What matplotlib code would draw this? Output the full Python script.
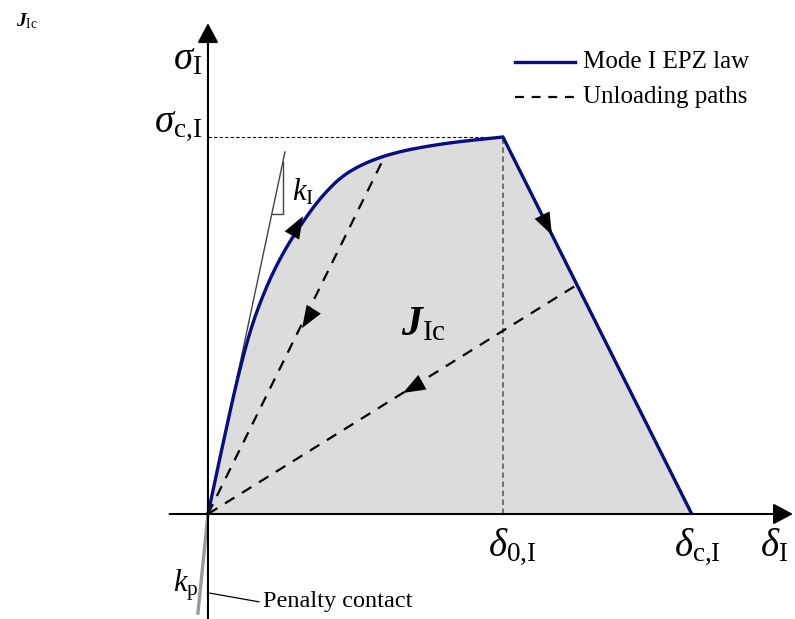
import matplotlib
matplotlib.use("Agg")
import matplotlib.pyplot as plt
from matplotlib.patches import FancyArrowPatch, PathPatch
from matplotlib.path import Path

plt.rcParams["font.family"] = ["Liberation Serif", "DejaVu Serif"]
plt.rcParams["mathtext.fontset"] = "custom"
plt.rcParams["mathtext.rm"] = "Liberation Serif"
plt.rcParams["mathtext.it"] = "Liberation Serif:italic"
plt.rcParams["mathtext.bf"] = "Liberation Serif:bold:italic"

# Normalised traction-separation law (delta / delta_0, sigma / sigma_c)
delta_hard = [0.0, 0.0203, 0.0441, 0.0678, 0.0881, 0.1085, 0.1322, 0.1593,
              0.1864, 0.2136, 0.2441, 0.2780, 0.3119, 0.3458, 0.3797, 0.4136,
              0.4475, 0.4881, 0.5390, 0.5831, 0.6169, 0.6847, 0.7864, 0.8542,
              0.9220, 1.0]
sigma_hard = [0.0, 0.0743, 0.1618, 0.2467, 0.3183, 0.3846, 0.4562, 0.5241,
              0.5793, 0.6292, 0.6769, 0.7233, 0.7631, 0.8016, 0.8361, 0.8653,
              0.8905, 0.9127, 0.9326, 0.9456, 0.9541, 0.9674, 0.9809, 0.9878,
              0.9936, 1.0]
delta_0 = 1.0
delta_c = 1.64
sigma_c = 1.0

# Unloading paths: end points on the law
unload_1 = (0.600, 0.950)
unload_2 = (1.251, 0.608)

# Initial stiffness and penalty stiffness lines
k_I_end = (0.261, 0.960)
k_p_end = (-0.034, -0.263)

NAVY = "#0b0b82"

fig = plt.figure(figsize=(7.95, 6.19), dpi=100)
ax = fig.add_axes([0, 0, 1, 1])
ax.set_xlim(-0.705, 1.990)
ax.set_ylim(-0.2785, 1.3634)
ax.axis("off")


def smooth_path(xs, ys):
    """Quadratic-spline path through the midpoints of the given polyline."""
    pts = list(zip(xs, ys))
    verts = [pts[0]]
    codes = [Path.MOVETO]
    for i in range(1, len(pts) - 1):
        mid = ((pts[i][0] + pts[i + 1][0]) / 2, (pts[i][1] + pts[i + 1][1]) / 2)
        verts += [pts[i], mid]
        codes += [Path.CURVE3, Path.CURVE3]
    verts.append(pts[-1])
    codes.append(Path.LINETO)
    return verts, codes


hard_verts, hard_codes = smooth_path(delta_hard, sigma_hard)

# Dissipated energy area
fill_verts = hard_verts + [(delta_c, 0.0), (0.0, 0.0)]
fill_codes = hard_codes + [Path.LINETO, Path.CLOSEPOLY]
ax.add_patch(PathPatch(Path(fill_verts, fill_codes), facecolor="#dcdcdc",
                       lw=0, zorder=1))

# Guide lines at the peak
ax.plot([0, delta_0], [sigma_c, sigma_c], color="k", lw=0.8,
        dashes=(3, 2), zorder=2)
ax.plot([delta_0, delta_0], [0, sigma_c], color="#666666", lw=1.3,
        dashes=(3, 2), zorder=2)

# Stiffness lines
ax.plot([0, k_I_end[0]], [0, k_I_end[1]], color="#444444", lw=1.0, zorder=3)
ax.plot([0.217, 0.254, 0.254], [0.796, 0.796, 0.934], color="#444444",
        lw=1.0, zorder=3)
ax.plot([0, k_p_end[0]], [0, k_p_end[1]], color="#999999", lw=2.4, zorder=3)

# Unloading paths
for px, py in (unload_1, unload_2):
    ax.plot([0, px], [0, py], color="k", lw=1.6, dashes=(5, 4), zorder=4)

# Mode I law: hardening branch then linear softening
law_verts = hard_verts + [(delta_c, 0.0)]
law_codes = hard_codes + [Path.LINETO]
ax.add_patch(PathPatch(Path(law_verts, law_codes), facecolor="none",
                       edgecolor=NAVY, lw=2.4, joinstyle="miter", zorder=5))

# Axes with arrow heads
for start, end in (((-0.13, 0.0), (1.983, 0.0)), ((0.0, -0.2785), (0.0, 1.302))):
    ax.add_patch(FancyArrowPatch(start, end, arrowstyle="-|>,head_length=0.6,head_width=0.32",
                                 mutation_scale=20, color="k", lw=1.5,
                                 shrinkA=0, shrinkB=0, zorder=6))


# Direction arrows along the paths
def direction_arrow(tail, tip):
    ax.add_patch(FancyArrowPatch(tail, tip, arrowstyle="-|>,head_length=0.8,head_width=0.3",
                                 mutation_scale=20, color="k", lw=0,
                                 shrinkA=0, shrinkB=0, zorder=7))


direction_arrow((0.295, 0.753), (0.322, 0.790))
direction_arrow((0.353, 0.536), (0.319, 0.493))
direction_arrow((1.130, 0.797), (1.166, 0.740))
direction_arrow((0.753, 0.361), (0.661, 0.321))

# Axis and point labels
ax.text(-0.02, 1.204, r"$\sigma_{\rm I}$", fontsize=28, ha="right", va="center")
ax.text(-0.02, 1.032, r"$\sigma_{\mathrm{c{,}I}}$", fontsize=28, ha="right", va="center")
ax.text(1.03, -0.085, r"$\delta_{\mathrm{0{,}I}}$", fontsize=28, ha="center", va="center")
ax.text(1.66, -0.085, r"$\delta_{\mathrm{c{,}I}}$", fontsize=28, ha="center", va="center")
ax.text(1.92, -0.085, r"$\delta_{\rm I}$", fontsize=28, ha="center", va="center")
ax.text(0.322, 0.854, r"$k_{\rm I}$", fontsize=22, ha="center", va="center")
ax.text(-0.075, -0.188, r"$k_{\rm p}$", fontsize=22, ha="center", va="center")
ax.text(0.729, 0.501, r"$\mathbf{J}_{\rm Ic}$", fontsize=30, ha="center", va="center")
ax.text(-0.614, 1.306, r"$\mathbf{J}_{\rm Ic}$", fontsize=14, ha="center", va="center")

# Penalty contact callout
ax.plot([0.007, 0.173], [-0.210, -0.233], color="k", lw=0.9, zorder=6)
ax.text(0.186, -0.231, "Penalty contact", fontsize=17.5, ha="left", va="center")

# Legend
ax.plot([1.041, 1.244], [1.199, 1.199], color=NAVY, lw=2.4)
ax.plot([1.041, 1.244], [1.106, 1.106], color="k", lw=1.6, dashes=(4, 3.5))
ax.text(1.271, 1.199, "Mode I EPZ law", fontsize=18, ha="left", va="center")
ax.text(1.271, 1.106, "Unloading paths", fontsize=18, ha="left", va="center")

fig.savefig("out.png", dpi=100)
